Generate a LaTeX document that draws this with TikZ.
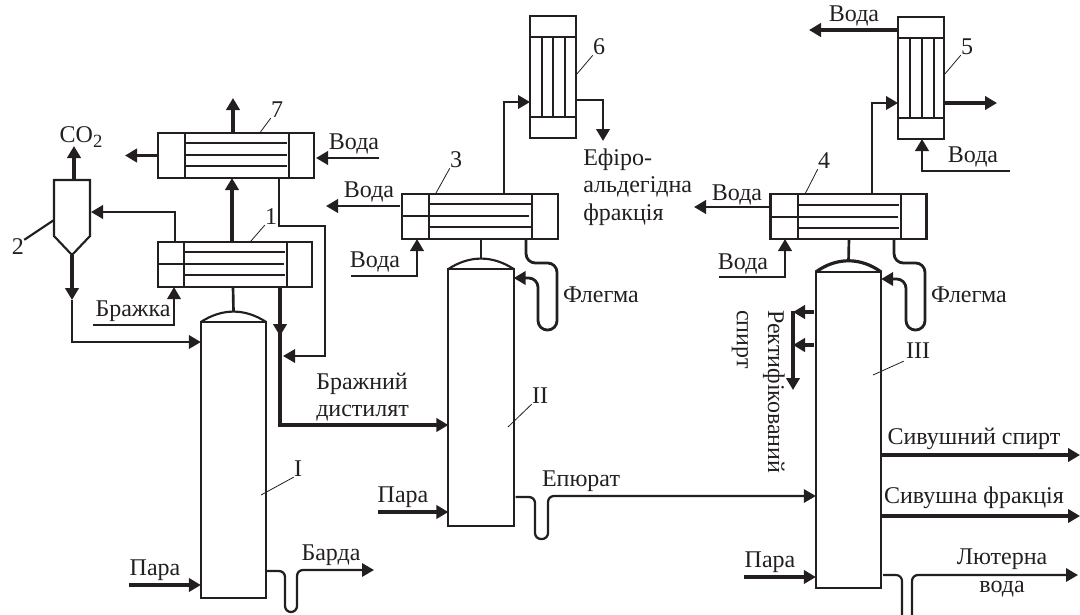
\documentclass[tikz,border=0pt]{standalone}
\usepackage{fontspec}
\setmainfont{Liberation Serif}
\usetikzlibrary{arrows.meta}
\tikzset{
    appbox/.style={shape=rectangle,draw=inkline,fill=white,line width=1.6pt,inner sep=0pt,outer sep=0pt},
    hxbox/.style={appbox,minimum width=117pt,minimum height=33.75pt},
    condbox/.style={appbox,minimum width=34.5pt,minimum height=91.5pt},
    colbox/.style={appbox,minimum width=49pt},
    tube/.style={draw=inkline,line width=2.1pt},
    flow/.style={draw=inkline,line width=2.4pt,-{Triangle[length=9pt,width=10pt]}},
    midflow/.style={draw=inkline,line width=2.1pt,-{Triangle[length=9pt,width=10pt]}},
    thinflow/.style={draw=inkline,line width=1.7pt,-{Triangle[length=9pt,width=10pt]}},
    pipe/.style={draw=inkline,line width=1.6pt},
    leader/.style={draw=inkline,line width=0.6pt},
    txt/.style={text=inkline,inner sep=0pt,font=\fontsize{18}{20.5}\selectfont},
}
\begin{document}
\begin{tikzpicture}[x=0.75pt,y=-0.75pt]
    \definecolor{inkline}{RGB}{35,31,32}
    \useasboundingbox (0,0) rectangle (1080,614);
    % apparatus
    \node[hxbox]  (hx7) at (236,155.5) {};
    \node[hxbox,minimum width=115.5pt]  (hx1) at (235,264.5) {};
    \node[hxbox]  (hx3) at (480,216.5) {};
    \node[hxbox]  (hx4) at (848.5,216.5) {};
    \node[condbox] (cond6) at (553,77) {};
    \node[condbox] (cond5) at (921,78) {};
    \node[colbox,minimum height=207pt]   (col1) at (233.5,460) {};
    \node[colbox,minimum height=192.75pt] (col2) at (481,397.5) {};
    \node[colbox,minimum height=237pt]   (col3) at (848.5,430) {};
    % column domes
    \draw[pipe] (col1.north west) to[bend left=33] coordinate (dome1) (col1.north east);
    \draw[pipe] (col2.north west) to[bend left=33] coordinate (dome2) (col2.north east);
    \draw[pipe,line width=2.4pt] (col3.north west) to[bend left=36] coordinate (dome3) (col3.north east);
    % separator
    \coordinate (septop) at (72,180);
    \coordinate (septip) at (72,255);
    \draw[pipe] (54,180) -- (90,180) -- (90,236) -- (septip) -- (54,236) -- cycle;
    % tube bundles
    \foreach \x in {185,289} \draw[tube] (\x,134) -- (\x,177);
    \foreach \y in {143,155,166} \draw[tube] (185,\y) -- (287,\y);
    \foreach \x in {184,287} \draw[tube] (\x,243) -- (\x,286);
    \foreach \y in {252,275} \draw[tube] (184,\y) -- (285,\y);
    \draw[tube] (157,264) -- (284,264);
    \foreach \x in {429,532} \draw[tube] (\x,195) -- (\x,238);
    \foreach \y in {204,227} \draw[tube] (429,\y) -- (532,\y);
    \draw[tube] (402,216) -- (529,216);
    \foreach \x in {798,901} \draw[tube] (\x,195) -- (\x,238);
    \foreach \y in {205,228} \draw[tube] (798,\y) -- (899,\y);
    \draw[tube] (770,217) -- (898,217);
    \foreach \y in {37,117} \draw[tube] (531,\y) -- (575,\y);
    \foreach \x in {542,553,565} \draw[tube] (\x,37) -- (\x,117);
    \foreach \y in {38,118} \draw[tube] (899,\y) -- (943,\y);
    \foreach \x in {910,922,934} \draw[tube] (\x,38) -- (\x,118);
    % free ends
    \foreach \n/\p in {a7up/{233,98},a7left/{125,155.5},a7water/{379,158},cotwo/{74,146},
        a1water/{93,325},a1sep/{91,212},wat3out/{326,206},wat3in/{351,276},
        wat4out/{694,207},wat4in/{719,277},wat5out/{809,30},wat5in/{1010,171},
        a5right/{997,103},a6down/{603,141},
        para1/{129,585},para2/{378,512},para3/{744,577},
        barda/{374,570},sivsp/{1080,455},sivfr/{1080,516},luter/{1078,575},
        rect/{793,390},join1/{283,356},mid1/{72,300}}
        \coordinate (\n) at (\p);
    % left part
    \draw[flow] (233,0 |- hx7.north) -- (a7up);
    \draw[flow] (hx7.west) -- (a7left);
    \draw[midflow] (a7water) -- (316,158);
    \draw[flow] (232,0 |- hx1.north) -- (232,0 |- hx7.south);
    \draw[midflow] (175,0 |- hx1.north) |- (a1sep);
    \draw[flow] (74,0 |- septop) -- (cotwo);
    \draw[flow] (septip) -- (mid1);
    \draw[midflow] (mid1) |- (col1.west |- 0,342);
    \draw[thinflow] (a1water) -| (174,0 |- hx1.south);
    \draw[pipe,line width=2pt] (233,0 |- hx1.south) -- (dome1);
    \draw[flow] (280,0 |- hx1.south) -- (280,336);
    \draw[flow] (280,330) |- (col2.west |- 0,425);
    \draw[thinflow] (279,0 |- hx7.south) |- (325,226) |- (join1);
    \draw[flow] (para1) -- (col1.west |- para1);
    \draw[thinflow,rounded corners=4.5pt] (col1.east |- 0,571) -- (285,571) -- (285,612) -- (297,612) -- (297,570) -- (barda);
    % middle part
    \draw[midflow] (hx3.west |- wat3out) ++(-2,0) -- (wat3out);
    \draw[midflow] (wat3in) -| (417,0 |- hx3.south);
    \draw[pipe,line width=2pt] (481,0 |- hx3.south) -- (dome2);
    \draw[midflow] (504,0 |- hx3.north) |- (cond6.west |- 0,102);
    \draw[midflow] (cond6.east |- 0,100) -| (a6down);
    \draw[midflow,rounded corners=7pt] (526,0 |- hx3.south) -- (526,263) -- (557,263) -- (557,330) -- (538,330) -- (538,278) -- (col2.east |- 0,278);
    \draw[flow] (para2) -- (col2.west |- para2);
    \draw[thinflow,rounded corners=4.5pt] (col2.east |- 0,497) ++(2,0) -- (535,497) -- (535,539) -- (548,539) -- (548,496) -- (col3.west |- 0,496);
    % right part
    \draw[midflow] (hx4.west |- wat4out) ++(-1,0) -- (wat4out);
    \draw[midflow] (wat4in) -| (785,0 |- hx4.south);
    \draw[pipe,line width=2pt] (849,0 |- hx4.south) -- (dome3);
    \draw[midflow] (872,0 |- hx4.north) |- (cond5.west |- 0,103);
    \draw[flow] (cond5.east |- a5right) -- (a5right);
    \draw[flow] (cond5.west |- wat5out) -- (wat5out);
    \draw[midflow] (wat5in) -| (922,0 |- cond5.south);
    \draw[midflow,rounded corners=7pt] (894,0 |- hx4.south) -- (894,263) -- (925,263) -- (925,330) -- (906,330) -- (906,279) -- (col3.east |- 0,279);
    \draw[flow] (col3.west |- 0,312) ++(-2,0) -- (793,312);
    \draw[flow] (col3.west |- 0,345) ++(-2,0) -- (793,345);
    \draw[flow,shorten <=-1pt] (793,312) -- (rect);
    \draw[flow] (para3) -- (col3.west |- para3);
    \draw[flow] (col3.east |- sivsp) -- (sivsp);
    \draw[flow] (col3.east |- sivfr) -- (sivfr);
    \draw[pipe,rounded corners=4.5pt] (col3.east |- luter) ++(2,0) -- (902,575) -- (902,620);
    \draw[thinflow,rounded corners=4.5pt] (912,620) -- (912,575) -- (luter);
    % numbers and leaders
    \node[txt] (lbl2) at (18,247) {2};
    \node[txt] (lbl7) at (277,110) {7};
    \node[txt] (lbl1) at (271,217) {1};
    \node[txt] (lbl3) at (456,160) {3};
    \node[txt] (lbl6) at (599,47) {6};
    \node[txt] (lbl4) at (824,161) {4};
    \node[txt] (lbl5) at (967,47) {5};
    \node[txt] (lblI) at (298,469) {I};
    \node[txt] (lblII) at (540,396) {II};
    \node[txt] (lblIII) at (918,351) {III};
    \draw[pipe] (lbl2.north east) ++(0,1) -- (54,220);
    \draw[leader] (lbl7.south west) -- (259,134);
    \draw[leader] (lbl1.south west) -- (251,241);
    \draw[leader] (lbl3.south west) -- (436,193);
    \draw[leader] (lbl6.south west) -- (576,75);
    \draw[leader] (lbl4.south west) -- (805,194);
    \draw[leader] (lbl5.south west) -- (944,75);
    \draw[leader] (lblI.south west) -- (261,495);
    \draw[leader] (lblII.south west) -- (508,427);
    \draw[leader] (lblIII.south west) ++(-2,2) -- (873,375);
    % stream names
    \node[txt] (tco) at (81,137) {CO\raisebox{-3.5pt}{\fontsize{14}{14}\selectfont 2}};
    \node[txt] (tv7) at (354,144) {Вода};
    \node[txt] (tv3a) at (369,192) {Вода};
    \node[txt] (tv3b) at (375,262) {Вода};
    \node[txt] (tv4a) at (737,195) {Вода};
    \node[txt] (tv4b) at (743,264) {Вода};
    \node[txt] (tv5a) at (854,16) {Вода};
    \node[txt] (tv5b) at (973,157) {Вода};
    \node[txt] (tbr) at (133,311) {Бражка};
    \node[txt,align=left,anchor=west] (tdis) at (316,397) {Бражний\\дистилят};
    \node[txt,align=left,anchor=west] (tef) at (583,187) {Ефіро-\\альдегідна\\фракція};
    \node[txt] (tfl2) at (601,295) {Флегма};
    \node[txt] (tfl3) at (969,295) {Флегма};
    \node[txt] (tp1) at (155,570) {Пара};
    \node[txt] (tp2) at (403,497) {Пара};
    \node[txt] (tp3) at (770,562) {Пара};
    \node[txt] (tbd) at (331,555) {Барда};
    \node[txt] (tep) at (581,481) {Епюрат};
    \node[txt] (tss) at (974,439) {Сивушний спирт};
    \node[txt] (tsf) at (974,498) {Сивушна фракція};
    \node[txt,align=center] (tlv) at (1002,573) {Лютерна\\вода};
    \node[txt,align=left,rotate=-90,anchor=north west] (trs) at (785,310) {Ректифікований\\[3pt]спирт};
\end{tikzpicture}
\end{document}
